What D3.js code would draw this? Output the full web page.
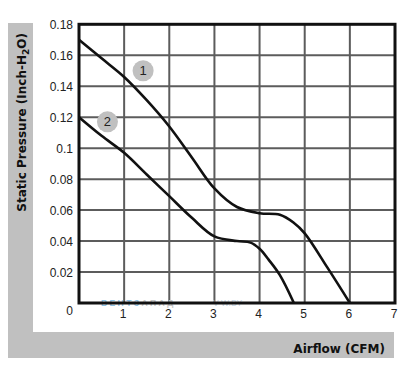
<!DOCTYPE html>
<html lang="en">

<head>
    <meta charset="UTF-8">
    <title>Fan curve</title>
    <script src="https://cdn.jsdelivr.net/npm/d3@7"></script>
</head>

<body>
    <script>
        // airflow (CFM) / static pressure (inch H2O)
        const curve1X = [0, 0.5, 1, 1.5, 2, 2.5, 3, 3.5, 4, 4.45, 4.75, 5, 5.5, 6];
        const curve1Y = [0.17, 0.158, 0.146, 0.131, 0.114, 0.094, 0.074, 0.062, 0.058, 0.057, 0.052, 0.045, 0.023, 0];
        const curve2X = [0, 0.5, 1, 1.5, 2, 2.5, 3, 3.5, 3.8, 4, 4.2, 4.45, 4.76];
        const curve2Y = [0.12, 0.108, 0.097, 0.083, 0.069, 0.055, 0.043, 0.040, 0.039, 0.035, 0.028, 0.018, 0];
        const xTicks = [1, 2, 3, 4, 5, 6, 7];
        const yTicks = [0.02, 0.04, 0.06, 0.08, 0.1, 0.12, 0.14, 0.16, 0.18];
        const markers = [{ name: "1", x: 1.42, y: 0.150 }, { name: "2", x: 0.63, y: 0.117 }];

        const width = 410, height = 368;
        const svg = d3.select("body").append("svg").attr("width", width).attr("height", height)
            .style("font-family", "Liberation Sans, Arial, sans-serif");

        const x = d3.scaleLinear().domain([0, 7]).range([79, 395]);
        const y = d3.scaleLinear().domain([0, 0.18]).range([303, 24.3]);

        // grey L-shaped frame
        svg.append("rect").attr("x", 8).attr("y", 23).attr("width", 25).attr("height", 335).attr("fill", "#c0c0c0");
        svg.append("rect").attr("x", 8).attr("y", 332).attr("width", 386).attr("height", 26).attr("fill", "#c0c0c0");

        // grid
        svg.append("g")
            .selectAll("line")
            .data(xTicks.slice(0, -1))
            .join("line")
            .attr("x1", d => x(d)).attr("x2", d => x(d))
            .attr("y1", y(0)).attr("y2", y(0.18))
            .attr("stroke", "#5c5c5c").attr("stroke-width", 2);
        svg.append("g")
            .selectAll("line")
            .data(yTicks.slice(0, -1))
            .join("line")
            .attr("x1", x(0)).attr("x2", x(7))
            .attr("y1", d => y(d)).attr("y2", d => y(d))
            .attr("stroke", "#5c5c5c").attr("stroke-width", 2);

        // watermark
        const wm = svg.append("text").attr("x", 101).attr("y", 305.5)
            .attr("font-size", 8.5).attr("font-weight", "bold").attr("letter-spacing", 2.4);
        wm.append("tspan").attr("fill", "#8ec2e6").text("ВЕНТЗ");
        wm.append("tspan").attr("fill", "#c4c4c4").text("АПАД");
        svg.append("text").attr("x", 213).attr("y", 305.5).attr("font-size", 8.5)
            .attr("fill", "#c4d4e4").text("V-W.BY");

        // frame of plot
        svg.append("rect")
            .attr("x", x(0)).attr("y", y(0.18))
            .attr("width", x(7) - x(0)).attr("height", y(0) - y(0.18))
            .attr("fill", "none").attr("stroke", "#111").attr("stroke-width", 3);

        // tick labels
        svg.append("g")
            .selectAll("text")
            .data(yTicks)
            .join("text")
            .attr("x", 73).attr("y", d => y(d) + 4.5)
            .attr("text-anchor", "end").attr("font-size", 12).attr("fill", "#222")
            .text(d => d3.format("~g")(d));
        svg.append("text").attr("x", 73).attr("y", 315)
            .attr("text-anchor", "end").attr("font-size", 12).attr("fill", "#222").text("0");
        svg.append("g")
            .selectAll("text")
            .data(xTicks)
            .join("text")
            .attr("x", d => x(d) - 1).attr("y", 317.5)
            .attr("text-anchor", "middle").attr("font-size", 12).attr("fill", "#222")
            .text(d => d);

        // curves
        const line = d3.line().x(d => x(d[0])).y(d => y(d[1])).curve(d3.curveCatmullRom.alpha(0.5));
        [[curve1X, curve1Y], [curve2X, curve2Y]].forEach(([xs, ys]) => {
            svg.append("path")
                .datum(d3.zip(xs, ys))
                .attr("d", line)
                .attr("fill", "none").attr("stroke", "#111").attr("stroke-width", 2.6);
        });

        // numbered markers
        const m = svg.append("g").selectAll("g").data(markers).join("g")
            .attr("transform", d => `translate(${x(d.x)},${y(d.y)})`);
        m.append("circle").attr("r", 10.5).attr("fill", "#c0c0c0");
        m.append("text").attr("y", 4.5).attr("text-anchor", "middle")
            .attr("font-size", 13).attr("fill", "#222").text(d => d.name);

        // axis titles
        svg.append("text").attr("x", 385).attr("y", 353)
            .attr("text-anchor", "end").attr("font-size", 12).attr("font-weight", "bold")
            .attr("font-family", "DejaVu Sans, sans-serif")
            .attr("fill", "#111").text("Airflow (CFM)");
        const yt = svg.append("text")
            .attr("transform", "translate(25.5,33) rotate(-90)")
            .attr("text-anchor", "end").attr("font-size", 12).attr("font-weight", "bold")
            .attr("font-family", "DejaVu Sans, sans-serif").attr("fill", "#111");
        yt.append("tspan").text("Static Pressure (Inch-H");
        yt.append("tspan").attr("font-size", 9).attr("dy", 3).text("2");
        yt.append("tspan").attr("dy", -3).text("O)");
    </script>
    <style>
        * {
            margin: 0;
            padding: 0;
        }
    </style>
</body>

</html>
